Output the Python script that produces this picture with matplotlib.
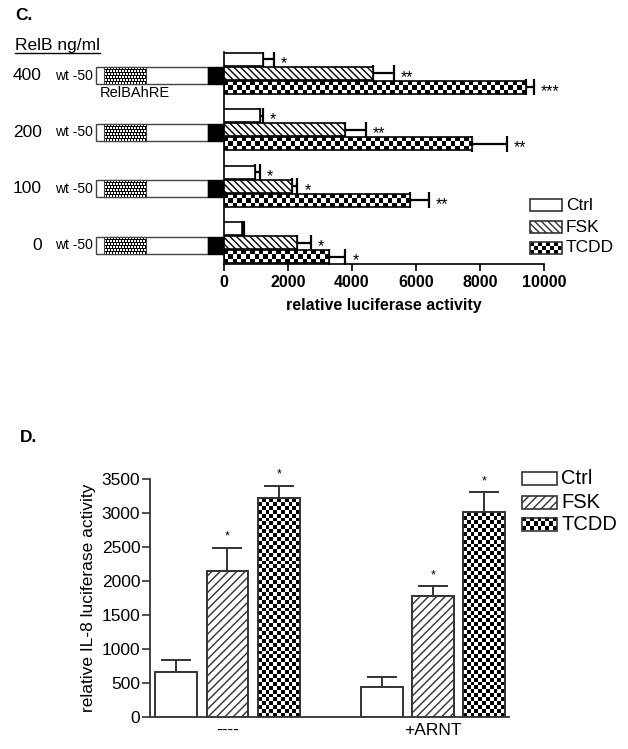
import numpy as np
from matplotlib import pyplot as plt
from matplotlib.patches import Rectangle

plt.rcParams['font.family'] = ['Liberation Sans', 'DejaVu Sans']
plt.rcParams['hatch.linewidth'] = 1.0

# ---- panel C data (RelB dose, horizontal bars) ----
relb_doses = ['0', '100', '200', '400']
treatments = ['Ctrl', 'FSK', 'TCDD']
c_ctrl = [573, 958, 1135, 1219]
c_ctrl_err = [62, 157, 84, 333]
c_fsk = [2281, 2135, 3771, 4656]
c_fsk_err = [427, 157, 656, 646]
c_tcdd = [3281, 5802, 7760, 9427]
c_tcdd_err = [511, 604, 1084, 260]
c_ctrl_sig = ['', '*', '*', '*']
c_fsk_sig = ['*', '*', '**', '**']
c_tcdd_sig = ['*', '**', '**', '***']
c_xticks = [0, 2000, 4000, 6000, 8000, 10000]

# ---- panel D data ----
d_groups = ['----', '+ARNT']
d_ctrl = [657, 446]
d_ctrl_err = [181, 138]
d_fsk = [2147, 1779]
d_fsk_err = [343, 147]
d_tcdd = [3216, 3010]
d_tcdd_err = [185, 294]
d_ctrl_sig = ['', '']
d_fsk_sig = ['*', '*']
d_tcdd_sig = ['*', '*']
d_yticks = [0, 500, 1000, 1500, 2000, 2500, 3000, 3500]

W, H = 628, 749
fig = plt.figure(figsize=(W / 100, H / 100), dpi=100)


def px_axes(l, t, r, b):
    return fig.add_axes([l / W, 1 - b / H, (r - l) / W, (b - t) / H])


def checker(ax, x0, x1, y0, y1, cell=4.2, z=2):
    """fill a rectangle with a black/white checkerboard"""
    p = ax.transData.transform([(x0, y0), (x1, y1)])
    nx = max(1, int(round(abs(p[1, 0] - p[0, 0]) / cell)))
    ny = max(1, int(round(abs(p[1, 1] - p[0, 1]) / cell)))
    arr = np.add.outer(np.arange(ny), np.arange(nx)) % 2
    ax.imshow(arr, cmap='gray', extent=(x0, x1, y0, y1), aspect='auto',
              interpolation='nearest', origin='lower', zorder=z)


def dots(ax, x0, x1, y0, y1, z=2):
    """stippled fill: white spots on a black lattice, rows staggered"""
    p = ax.transData.transform([(x0, y0), (x1, y1)])
    nx = max(1, int(round(abs(p[1, 0] - p[0, 0]))))
    ny = max(1, int(round(abs(p[1, 1] - p[0, 1]))))
    tile = np.array([[1, 1, 0, 1, 1, 0],
                     [1, 1, 0, 1, 1, 0],
                     [0, 0, 0, 0, 0, 0],
                     [0, 1, 1, 0, 1, 1],
                     [0, 1, 1, 0, 1, 1],
                     [0, 0, 0, 0, 0, 0]])
    arr = np.tile(tile, (ny // 6 + 1, nx // 6 + 1))[:ny, :nx]
    ax.imshow(arr, cmap='gray', extent=(x0, x1, y0, y1), aspect='auto',
              interpolation='nearest', origin='lower', zorder=z)


# ================= panel C =================
axC = px_axes(224, 52, 544, 264)
c_ylim = (-0.375, 3.377)
c_xlim = (0, 10000)
axC.set_xlim(*c_xlim)
axC.set_ylim(*c_ylim)
gpos = np.arange(len(relb_doses))
bh = 0.23
offs = [0.247, 0.0, -0.247]
c_vals = [c_ctrl, c_fsk, c_tcdd]
c_errs = [c_ctrl_err, c_fsk_err, c_tcdd_err]
c_sigs = [c_ctrl_sig, c_fsk_sig, c_tcdd_sig]
c_hatch = [None, '\\\\\\\\\\', None]

for k in range(3):
    y = gpos + offs[k]
    axC.errorbar(c_vals[k], y, xerr=[np.zeros(len(y)), c_errs[k]], fmt='none',
                 ecolor='black', elinewidth=1.6, capsize=6, capthick=1.6, zorder=1)
    for v, yy in zip(c_vals[k], y):
        if k == 2:
            checker(axC, 0, v, yy - bh / 2, yy + bh / 2, cell=4.4)
            axC.add_patch(Rectangle((0, yy - bh / 2), v, bh, fill=False,
                                    edgecolor='black', lw=1.2, zorder=3))
        else:
            axC.barh(yy, v, height=bh, color='white', edgecolor='black',
                     hatch=c_hatch[k], lw=1.2, zorder=3)
    for v, e, yy, s in zip(c_vals[k], c_errs[k], y, c_sigs[k]):
        if s:
            axC.annotate(s, xy=(v + e, yy), xytext=(5, -3), textcoords='offset points',
                         ha='left', va='center', fontsize=11.5)

for sp in ['top', 'right']:
    axC.spines[sp].set_visible(False)
axC.spines['bottom'].set_bounds(0, 10000)
axC.spines['left'].set_linewidth(1.2)
axC.spines['bottom'].set_linewidth(1.2)
axC.set_yticks([])
axC.set_xticks(c_xticks)
axC.set_xticklabels([str(t) for t in c_xticks], fontweight='bold', fontsize=11.5)
axC.tick_params(axis='x', length=5, width=1.2, pad=3)
axC.set_xlabel('relative luciferase activity', fontweight='bold', fontsize=11.5, labelpad=6)
axC.set_xlim(*c_xlim)
axC.set_ylim(*c_ylim)

# construct schematics, same rows as the bars
axS = fig.add_axes([0, 1 - 264 / H, 224 / W, 212 / H], sharey=axC)
axS.set_xlim(0, 224)
axS.axis('off')
rh = 0.30
for g, dose in zip(gpos, relb_doses):
    yc = g - 0.04
    axS.add_patch(Rectangle((96, yc - rh / 2), 112, rh, facecolor='white',
                            edgecolor='#444444', lw=1, zorder=1))
    dots(axS, 104, 146, yc - rh / 2, yc + rh / 2)
    axS.add_patch(Rectangle((104, yc - rh / 2), 42, rh, fill=False,
                            edgecolor='#444444', lw=0.8, zorder=3))
    axS.add_patch(Rectangle((208, yc - rh / 2), 16, rh, facecolor='black',
                            edgecolor='black', lw=1, zorder=3))
    axS.text(93, yc, 'wt -50', ha='right', va='center', fontsize=10)
    axS.text(42, yc, dose, ha='right', va='center', fontsize=12.5)
axS.text(100, gpos[-1] - 0.34, 'RelBAhRE', ha='left', va='center', fontsize=10.5)
axS.set_xlim(0, 224)
axC.set_ylim(*c_ylim)

# ================= panel D =================
axD = px_axes(150, 479, 509, 717)
d_xlim = (-0.377, 1.370)
d_ylim = (0, 3500)
axD.set_xlim(*d_xlim)
axD.set_ylim(*d_ylim)
xg = np.arange(len(d_groups))
bw = 0.204
doffs = [-0.25, 0.0, 0.25]
d_vals = [d_ctrl, d_fsk, d_tcdd]
d_errs = [d_ctrl_err, d_fsk_err, d_tcdd_err]
d_sigs = [d_ctrl_sig, d_fsk_sig, d_tcdd_sig]
d_hatch = [None, '////', None]
edge = '#333333'

for k in range(3):
    x = xg + doffs[k]
    axD.errorbar(x, d_vals[k], yerr=[np.zeros(len(x)), d_errs[k]], fmt='none',
                 ecolor=edge, elinewidth=1.4, capsize=11, capthick=1.4, zorder=1)
    for v, xx in zip(d_vals[k], x):
        if k == 2:
            checker(axD, xx - bw / 2, xx + bw / 2, 0, v, cell=3.9)
            axD.add_patch(Rectangle((xx - bw / 2, 0), bw, v, fill=False,
                                    edgecolor=edge, lw=1.4, zorder=3))
        else:
            axD.bar(xx, v, width=bw, color='white', edgecolor=edge,
                    hatch=d_hatch[k], lw=1.4, zorder=3)
    for v, e, xx, s in zip(d_vals[k], d_errs[k], x, d_sigs[k]):
        if s:
            axD.annotate(s, xy=(xx, v + e), xytext=(0, 3.5), textcoords='offset points',
                         ha='center', va='bottom', fontsize=9)

for sp in ['top', 'right']:
    axD.spines[sp].set_visible(False)
for sp in ['left', 'bottom']:
    axD.spines[sp].set_linewidth(1.3)
    axD.spines[sp].set_color(edge)
axD.set_yticks(d_yticks)
axD.set_yticklabels([str(t) for t in d_yticks], fontsize=12.5)
axD.tick_params(axis='y', length=6, width=1.2, color=edge, pad=1)
axD.set_xticks(xg)
axD.set_xticklabels(d_groups, fontsize=12.5)
axD.tick_params(axis='x', length=0, pad=4)
axD.set_ylabel('relative IL-8 luciferase activity', fontsize=12.5)
axD.yaxis.set_label_coords(-0.15, 0.5)
axD.set_xlim(*d_xlim)
axD.set_ylim(*d_ylim)

# ================= overlay: letters, header, legends =================
ov = fig.add_axes([0, 0, 1, 1])
ov.set_xlim(0, W)
ov.set_ylim(H, 0)
ov.axis('off')

ov.text(15, 16, 'C.', fontweight='bold', fontsize=12.5, va='center')
ov.text(20, 437, 'D.', fontweight='bold', fontsize=12.5, va='center')
hdr = ov.text(15, 50, 'RelB ng/ml', fontsize=12.5, va='baseline')
fig.canvas.draw()
bb = hdr.get_window_extent(fig.canvas.get_renderer())
inv = ov.transData.inverted()
(ux0, _), (ux1, _) = inv.transform([(bb.x0, bb.y0), (bb.x1, bb.y0)])
ov.plot([ux0, ux1], [52.5, 52.5], color='black', lw=1)


def legend(x0, bw_, bh_, ys, fs, hatch_fsk, cell):
    for name, yc, k in zip(treatments, ys, range(3)):
        if k == 2:
            checker(ov, x0, x0 + bw_, yc + bh_ / 2, yc - bh_ / 2, cell=cell)
            ov.add_patch(Rectangle((x0, yc - bh_ / 2), bw_, bh_, fill=False,
                                   edgecolor='#333333', lw=1.2, zorder=3))
        else:
            ov.add_patch(Rectangle((x0, yc - bh_ / 2), bw_, bh_, facecolor='white',
                                   edgecolor='#333333', lw=1.2,
                                   hatch=hatch_fsk if k == 1 else None))
        ov.text(x0 + bw_ + 4, yc, name, fontsize=fs, va='center', ha='left')


legend(530, 32, 12, [205, 227, 248], 12.5, '\\\\\\\\\\', 4.2)
legend(522, 35, 13, [478, 502, 524], 14.5, '////', 4.0)
ov.set_xlim(0, W)
ov.set_ylim(H, 0)

plt.savefig('out.png', dpi=100)
